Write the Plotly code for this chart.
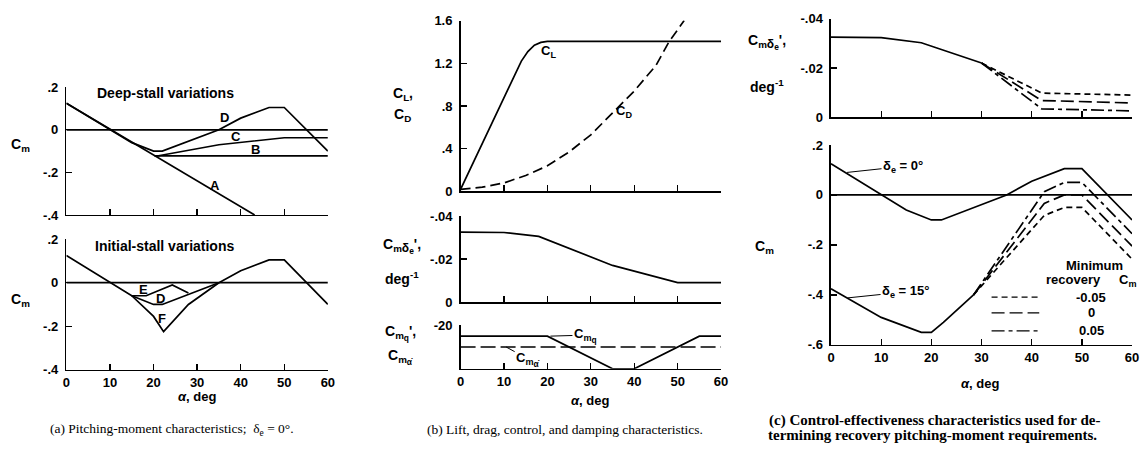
import plotly.graph_objects as go

# ---------------- data ----------------
# Panel (a): pitching moment, delta_e = 0
alpha_base = [0, 10, 15, 20, 22, 35, 40, 46.5, 50, 60]
cm_base = [0.125, 0.0, -0.06, -0.1, -0.1, 0.0, 0.055, 0.105, 0.105, -0.1]
alpha_A = [0, 43.2]
cm_A = [0.125, -0.4]
alpha_B = [20.2, 60]
cm_B = [-0.122, -0.122]
alpha_C = [20.5, 35, 50, 60]
cm_C = [-0.124, -0.07, -0.037, -0.037]
alpha_E = [15, 18.3, 24.3, 28]
cm_E = [-0.06, -0.06, -0.01, -0.047]
alpha_F = [15, 20, 22.3, 28, 35]
cm_F = [-0.06, -0.155, -0.225, -0.1, 0.0]
alpha_zero = [0, 60]
cm_zero = [0, 0]

# Panel (b): lift, drag, control, damping
alpha_CL = [0, 5, 10, 14, 15.5, 17, 18.5, 20, 60]
CL = [0.02, 0.45, 0.88, 1.22, 1.31, 1.37, 1.395, 1.405, 1.405]
alpha_CD = [0, 5, 10, 15, 20, 25, 30, 35, 40, 45, 48, 51.5]
CD = [0.02, 0.04, 0.08, 0.15, 0.24, 0.37, 0.53, 0.74, 0.94, 1.18, 1.4, 1.6]
alpha_cmde = [0, 10, 18, 35, 50, 60]
cmde = [-0.0325, -0.0323, -0.0305, -0.017, -0.009, -0.009]
alpha_cmq = [0, 20, 35, 40, 55, 60]
cmq = [-15, -15, 0, 0, -15, -15]
alpha_cmad = [0, 60]
cmad = [-10, -10]

# Panel (c): control effectiveness for recovery
alpha_cmde_c = [0, 10, 18, 30]
cmde_c = [-0.0325, -0.0323, -0.0302, -0.022]
alpha_cmde_branch = [30, 42, 60]
cmde_m005 = [-0.022, -0.0098, -0.0090]
cmde_0 = [-0.022, -0.0068, -0.0058]
cmde_p005 = [-0.022, -0.0034, -0.0026]
alpha_de15 = [0, 10, 18, 20, 22.4, 28.4]
cm_de15 = [-0.375, -0.49, -0.55, -0.55, -0.51, -0.40]
alpha_rec = [28.4, 42.5, 46.5, 50, 60]
cm_rec_m005 = [-0.40, -0.082, -0.05, -0.05, -0.257]
cm_rec_0 = [-0.40, -0.034, 0.0, 0.0, -0.205]
cm_rec_p005 = [-0.40, 0.013, 0.05, 0.05, -0.155]
legend_labels = ["-0.05", "0", "0.05"]

x_ticks = [0, 10, 20, 30, 40, 50, 60]
x_ticktext = ["0", "10", "20", "30", "40", "50", "60"]

# ---------------- layout helpers ----------------
W, H = 1147, 459
FONT = "Liberation Sans"
SERIF = "Liberation Serif"
LW = 1.7


def px(x):
    return x / W


def py(y):
    return 1 - y / H


tickfont = dict(family=FONT, size=13, color="black", weight="bold")


def xaxis(x0, x1, anchor, labels):
    return dict(domain=[px(x0), px(x1)], range=[0, 60], anchor=anchor,
                showline=True, linecolor="black", linewidth=1.5,
                ticks="inside", ticklen=6, tickwidth=1.3, tickcolor="black",
                tickvals=x_ticks, ticktext=x_ticktext, showticklabels=labels,
                showgrid=False, zeroline=False, tickfont=tickfont, fixedrange=True)


def yaxis(y_top, y_bot, anchor, rng, vals, text):
    return dict(domain=[py(y_bot), py(y_top)], range=rng, anchor=anchor,
                showline=True, linecolor="black", linewidth=1.5,
                ticks="inside", ticklen=6, tickwidth=1.3, tickcolor="black",
                tickvals=vals, ticktext=text, showgrid=False, zeroline=False,
                tickfont=tickfont, fixedrange=True, ticklabelstandoff=4)


fig = go.Figure()


def line(x, y, xa, ya, dash="solid"):
    fig.add_trace(go.Scatter(x=x, y=y, xaxis=xa, yaxis=ya, mode="lines",
                             line=dict(color="black", width=LW, dash=dash),
                             showlegend=False, hoverinfo="skip"))


SHORT = "6px,4px"
LONG = "13px,5px"
DASHDOT = "13px,4px,4px,4px"

# (a) top
for xs, ys in [(alpha_zero, cm_zero), (alpha_A, cm_A), (alpha_B, cm_B),
               (alpha_C, cm_C), (alpha_base, cm_base)]:
    line(xs, ys, "x", "y")
# (a) bottom
for xs, ys in [(alpha_zero, cm_zero), (alpha_base, cm_base), (alpha_E, cm_E),
               (alpha_F, cm_F)]:
    line(xs, ys, "x2", "y2")
# (b) top
line(alpha_CL, CL, "x3", "y3")
line(alpha_CD, CD, "x3", "y3", "10px,5px")
# (b) middle
line(alpha_cmde, cmde, "x4", "y4")
# (b) bottom
line(alpha_cmq, cmq, "x5", "y5")
line(alpha_cmad, cmad, "x5", "y5", "15px,5px")
# (c) top
line(alpha_cmde_c, cmde_c, "x6", "y6")
line(alpha_cmde_branch, cmde_m005, "x6", "y6", SHORT)
line(alpha_cmde_branch, cmde_0, "x6", "y6", LONG)
line(alpha_cmde_branch, cmde_p005, "x6", "y6", DASHDOT)
# (c) bottom
line(alpha_zero, cm_zero, "x7", "y7")
line(alpha_base, cm_base, "x7", "y7")
line(alpha_de15, cm_de15, "x7", "y7")
line(alpha_rec, cm_rec_m005, "x7", "y7", SHORT)
line(alpha_rec, cm_rec_0, "x7", "y7", LONG)
line(alpha_rec, cm_rec_p005, "x7", "y7", DASHDOT)

cm_vals = [0.2, 0, -0.2, -0.4]
cm_text = [".2", "0", "-.2", "-.4"]

layout = dict(
    width=W, height=H, autosize=False,
    margin=dict(l=0, r=0, t=0, b=0),
    paper_bgcolor="white", plot_bgcolor="white",
    xaxis=xaxis(63, 327, "y", False),
    yaxis=yaxis(83, 215, "x", [-0.4, 0.2], cm_vals, cm_text),
    xaxis2=xaxis(63, 327, "y2", True),
    yaxis2=yaxis(240, 375, "x2", [-0.4, 0.2], cm_vals, cm_text),
    xaxis3=xaxis(461, 724, "y3", False),
    yaxis3=yaxis(14, 190.7, "x3", [0, 1.6], [0, 0.4, 0.8, 1.2, 1.6],
                 ["0", ".4", ".8", "1.2", "1.6"]),
    xaxis4=xaxis(461, 724, "y4", False),
    yaxis4=yaxis(216, 305, "x4", [0, -0.04], [0, -0.02, -0.04],
                 ["0", "-.02", "-.04"]),
    xaxis5=xaxis(461, 724, "y5", True),
    yaxis5=yaxis(329, 374, "x5", [0, -20], [-20], ["-20"]),
    xaxis6=xaxis(835, 1139, "y6", False),
    yaxis6=yaxis(12, 114, "x6", [0, -0.04], [0, -0.02, -0.04],
                 ["0", "-.02", "-.04"]),
    xaxis7=xaxis(835, 1139, "y7", True),
    yaxis7=yaxis(142.6, 349.3, "x7", [-0.6, 0.2], [0.2, 0, -0.2, -0.4, -0.6],
                 [".2", "0", "-.2", "-.4", "-.6"]),
)
fig.update_layout(**layout)

ann = []


def ptext(x, y, text, size=13, family=FONT, weight="bold", xanchor="center"):
    ann.append(dict(x=px(x), y=py(y), xref="paper", yref="paper", text=text,
                    showarrow=False, xanchor=xanchor, yanchor="middle",
                    font=dict(family=family, size=size, color="black", weight=weight)))


def dtext(xa, ya, x, y, text, size=13, xanchor="center"):
    ann.append(dict(x=x, y=y, xref=xa, yref=ya, text=text, showarrow=False,
                    xanchor=xanchor, yanchor="middle",
                    font=dict(family=FONT, size=size, color="black", weight="bold")))


def leader(xa, ya, x, y, text, axo, ayo):
    ann.append(dict(x=x, y=y, xref=xa, yref=ya, text=text, showarrow=True,
                    arrowhead=0, arrowwidth=1, arrowcolor="black", ax=axo, ay=ayo,
                    font=dict(family=FONT, size=13, color="black", weight="bold")))


CMDE = "C<sub>m" + "<span style='font-size:12px'>δ<sub>e</sub></span></sub>"
CMQ = "C<sub>m<span style='font-size:12px'><sub>q</sub></span></sub>"
CMAD = "C<sub>m<span style='font-size:12px'><sub>α̇</sub></span></sub>"

# y-axis titles
ptext(17, 143, "C<sub>m</sub>", 14)
ptext(17, 303, "C<sub>m</sub>", 14)
ptext(403, 90, "C<sub>L</sub>,", 14)
ptext(402, 112, "C<sub>D</sub>", 14)
ptext(402, 247, CMDE + "',", 14)
ptext(402, 280, "deg<sup>-1</sup>", 14)
ptext(400, 337, CMQ + "',", 14)
ptext(400, 362, CMAD, 14)
ptext(770, 36, CMDE + "',", 14)
ptext(770, 82, "deg<sup>-1</sup>", 14)
ptext(768, 248, "C<sub>m</sub>", 14)

# x-axis titles
ptext(195, 403, "<i>α</i>, deg", 13)
ptext(592, 407, "<i>α</i>, deg", 13)
ptext(985, 389, "<i>α</i>, deg", 13)

# panel texts
dtext("x", "y", 6.6, 0.173, "Deep-stall variations", 14, "left")
dtext("x2", "y2", 6.1, 0.168, "Initial-stall variations", 14, "left")
dtext("x", "y", 36.3, 0.06, "D")
dtext("x", "y", 38.9, -0.03, "C")
dtext("x", "y", 43.5, -0.09, "B")
dtext("x", "y", 34.0, -0.26, "A")
dtext("x2", "y2", 17.7, -0.03, "E")
dtext("x2", "y2", 21.5, -0.073, "D")
dtext("x2", "y2", 21.9, -0.164, "F")
dtext("x3", "y3", 20.3, 1.31, "C<sub>L</sub>")
dtext("x3", "y3", 37.6, 0.75, "C<sub>D</sub>")
leader("x5", "y5", 20.7, -15, CMQ, 35, -1)
leader("x5", "y5", 10.5, -10, CMAD, 22, 12)
leader("x7", "y7", 3.2, 0.09, "δ<sub>e</sub> = 0°", 56, -6)
leader("x7", "y7", 3.3, -0.412, "δ<sub>e</sub> = 15°", 58, -6)

# (c) legend
dtext("x7", "y7", 52.6, -0.281, "Minimum")
dtext("x7", "y7", 48.4, -0.337, "recovery")
ptext(1145, 283, "C<sub>m</sub>", 13, xanchor="right")
leg_y = [-0.409, -0.472, -0.544]
for lab, yy, dd in zip(legend_labels, leg_y, [SHORT, LONG, DASHDOT]):
    fig.add_shape(type="line", xref="x7", yref="y7", x0=32, x1=41.5, y0=yy, y1=yy,
                  line=dict(color="black", width=1.3, dash=dd))
    dtext("x7", "y7", 51.9, yy, lab)

# captions
ptext(170, 437, "(a) Pitching-moment characteristics;  δ<sub>e</sub> = 0°.", 13.5, SERIF, "normal")
ptext(566, 437, "(b) Lift, drag, control, and damping characteristics.", 13.5, SERIF, "normal")
ptext(940, 427, "(c) Control-effectiveness characteristics used for de-", 15, SERIF, "bold")
ptext(937, 442, "termining recovery pitching-moment requirements.", 15, SERIF, "bold")

fig.update_layout(annotations=ann)
fig.write_html("out.html", post_script="document.body.style.margin='0';",
               config={"displayModeBar": False, "staticPlot": True})
